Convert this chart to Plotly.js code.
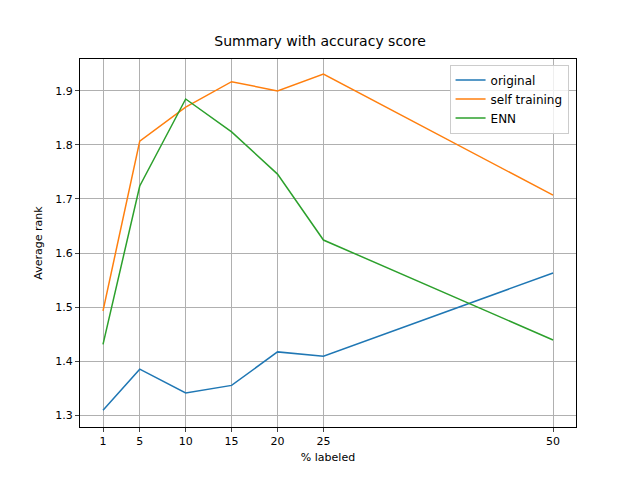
<!DOCTYPE html>
<html><head><script src="https://cdn.plot.ly/plotly-3.0.1.min.js"></script></head>
<body style="margin:0">
<div id="c" style="width:640px;height:480px"></div>
<script>
const xLabels = [1, 5, 10, 15, 20, 25, 50];
const original = [1.309, 1.385, 1.341, 1.355, 1.417, 1.409, 1.563];
const selfTraining = [1.493, 1.807, 1.870, 1.917, 1.900, 1.931, 1.707];
const enn = [1.431, 1.724, 1.885, 1.824, 1.746, 1.624, 1.439];
const mk = (y, name, color) => ({x: xLabels, y, name, type: 'scatter', mode: 'lines', line: {color, width: 1.5}});
Plotly.newPlot('c', [
  mk(original, 'original', '#1f77b4'),
  mk(selfTraining, 'self training', '#ff7f0e'),
  mk(enn, 'ENN', '#2ca02c')
], {
  width: 640, height: 480,
  margin: {l: 80, r: 64, t: 59, b: 53},
  font: {family: 'DejaVu Sans', size: 11, color: '#000'},
  title: {text: 'Summary with accuracy score', x: 0.5, xanchor: 'center', y: 0.925, font: {size: 14}},
  paper_bgcolor: '#fff', plot_bgcolor: '#fff',
  xaxis: {range: [-1.505, 52.5], tickvals: xLabels, ticks: 'outside', ticklen: 4, showgrid: true, gridcolor: '#b0b0b0',
    showline: true, mirror: true, linecolor: '#000', zeroline: false, title: {text: '% labeled', standoff: 6, font: {size: 11}}},
  yaxis: {range: [1.278, 1.959], dtick: 0.1, tickformat: '.1f', ticks: 'outside', ticklen: 4, showgrid: true, gridcolor: '#b0b0b0',
    showline: true, mirror: true, linecolor: '#000', zeroline: false, title: {text: 'Average rank', standoff: 10, font: {size: 11}}},
  legend: {x: 0.985, y: 0.985, xanchor: 'right', yanchor: 'top', bordercolor: '#ccc', borderwidth: 1, bgcolor: 'rgba(255,255,255,0.8)', font: {size: 12}},
  showlegend: true
}, {displayModeBar: false});
</script></body></html>
